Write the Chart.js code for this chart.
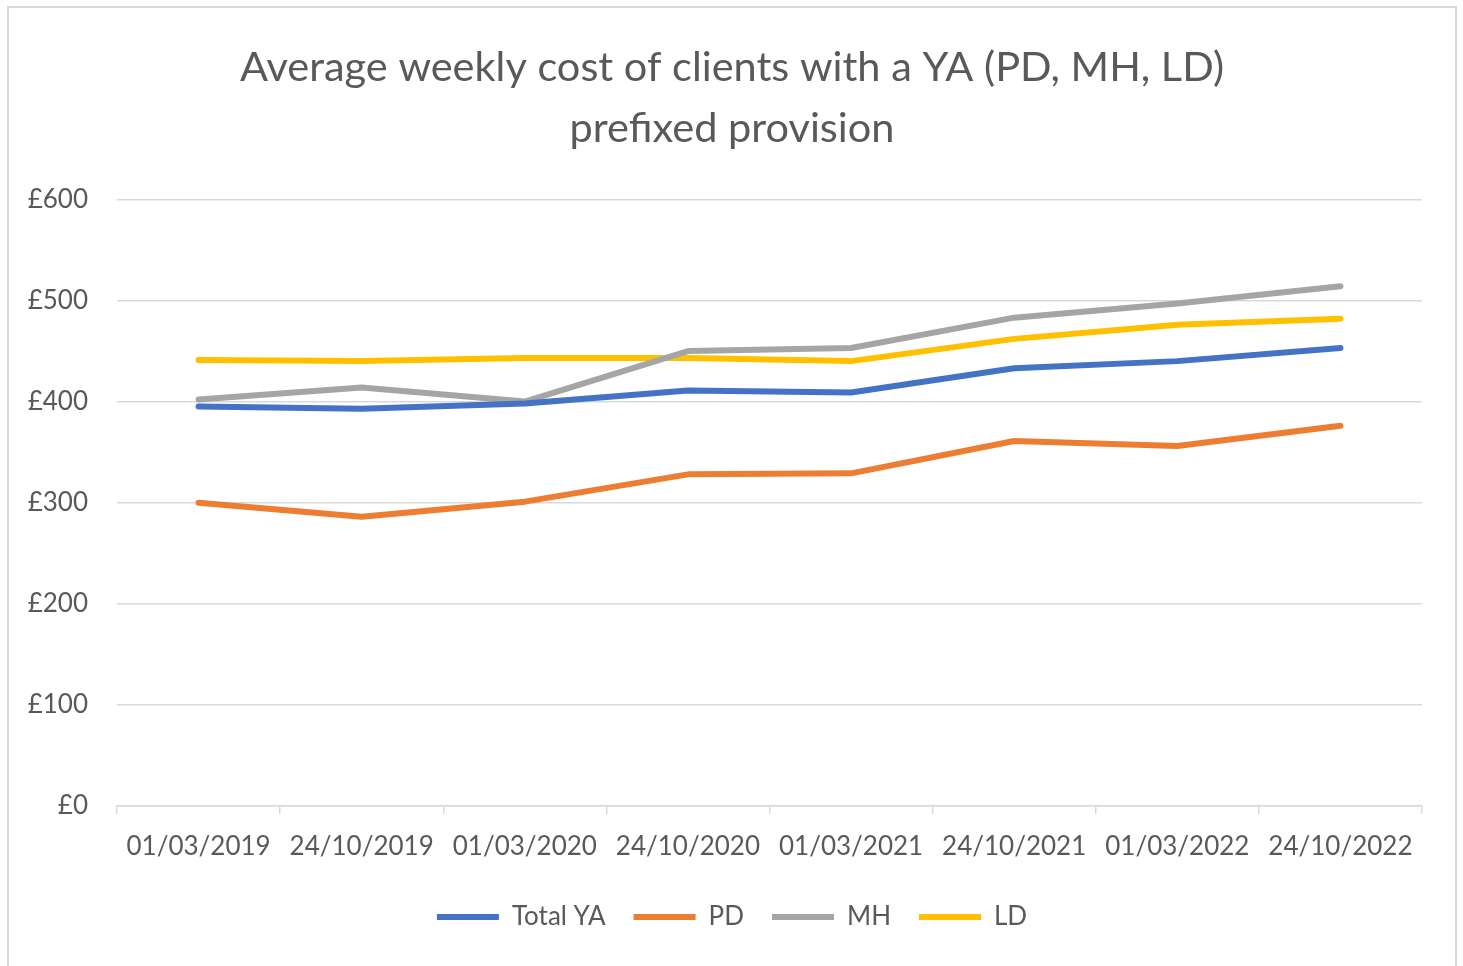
<!DOCTYPE html>
<html>
<head>
<meta charset="utf-8">
<script src="https://cdn.jsdelivr.net/npm/chart.js@4"></script>
<style>
  body { margin: 0; background: #fff; overflow: hidden; }
  #frame {
    position: absolute; left: 7px; top: 6px;
    width: 1450px; height: 970px;
    border: 2px solid #d9d9d9; box-sizing: border-box;
  }
  #wrap { position: absolute; left: 9px; top: 9px; width: 1448px; height: 957px; }
</style>
</head>
<body>
<div id="frame"></div>
<div id="wrap"><canvas id="cost"></canvas></div>
<script>
const dates = ['01/03/2019', '24/10/2019', '01/03/2020', '24/10/2020',
               '01/03/2021', '24/10/2021', '01/03/2022', '24/10/2022'];
const totalYA = [395, 393, 398, 411, 409, 433, 440, 453];
const pd      = [300, 286, 301, 328, 329, 361, 356, 376];
const mh      = [402, 414, 400, 450, 453, 483, 497, 514];
const ld      = [441, 440, 443, 443, 440, 462, 476, 482];

const textColor = '#595959';
const gridColor = '#d9d9d9';
const fontFamily = 'Lato, "Open Sans", sans-serif';

const line = (label, data, color) => ({
    label: label,
    data: data,
    borderColor: color,
    backgroundColor: color,
    borderWidth: 6,
    borderCapStyle: 'round',
    borderJoinStyle: 'round',
    pointRadius: 0,
    tension: 0
});

new Chart(document.getElementById('cost'), {
    type: 'line',
    data: {
        labels: dates,
        datasets: [
            line('Total YA', totalYA, '#4472c4'),
            line('PD', pd, '#ed7d31'),
            line('MH', mh, '#a5a5a5'),
            line('LD', ld, '#ffc000')
        ]
    },
    options: {
        responsive: true,
        maintainAspectRatio: false,
        animation: false,
        layout: { padding: { left: 19, right: 21, top: 0, bottom: 26 } },
        plugins: {
            tooltip: { enabled: false },
            title: {
                display: true,
                text: ['Average weekly cost of clients with a YA (PD, MH, LD)', 'prefixed provision'],
                color: textColor,
                font: { family: fontFamily, size: 41.5, weight: 'normal', lineHeight: 1.45 },
                padding: { top: 29, bottom: 41 }
            },
            legend: {
                position: 'bottom',
                labels: {
                    color: textColor,
                    font: { family: fontFamily, size: 26 },
                    usePointStyle: true,
                    pointStyle: 'line',
                    pointStyleWidth: 62,
                    boxHeight: 6,
                    padding: 28,
                    generateLabels: chart => Chart.defaults.plugins.legend.labels.generateLabels(chart)
                        .map(item => Object.assign(item, { lineWidth: 6 }))
                }
            }
        },
        scales: {
            x: {
                offset: true,
                afterFit: scale => { scale.height = 70; },
                grid: {
                    offset: true,
                    drawOnChartArea: false,
                    drawTicks: true,
                    tickLength: 8,
                    color: gridColor,
                    lineWidth: 1.5
                },
                border: { display: true, color: gridColor, width: 1.5 },
                ticks: {
                    color: textColor,
                    font: { family: fontFamily, size: 26 },
                    padding: 17,
                    maxRotation: 0,
                    autoSkip: false
                }
            },
            y: {
                min: 0,
                max: 600,
                afterFit: scale => { scale.width = 89; },
                grid: { color: gridColor, lineWidth: 1.5, drawTicks: false },
                border: { display: false },
                ticks: {
                    stepSize: 100,
                    color: textColor,
                    font: { family: fontFamily, size: 26 },
                    padding: 29,
                    callback: v => '£' + v
                }
            },
            // empty right-hand margin so the title and legend sit where they do in the original
            yRight: {
                position: 'right',
                afterFit: scale => { scale.width = 14; },
                grid: { display: false },
                border: { display: false },
                ticks: { display: false }
            }
        }
    }
});
</script>
</body>
</html>
